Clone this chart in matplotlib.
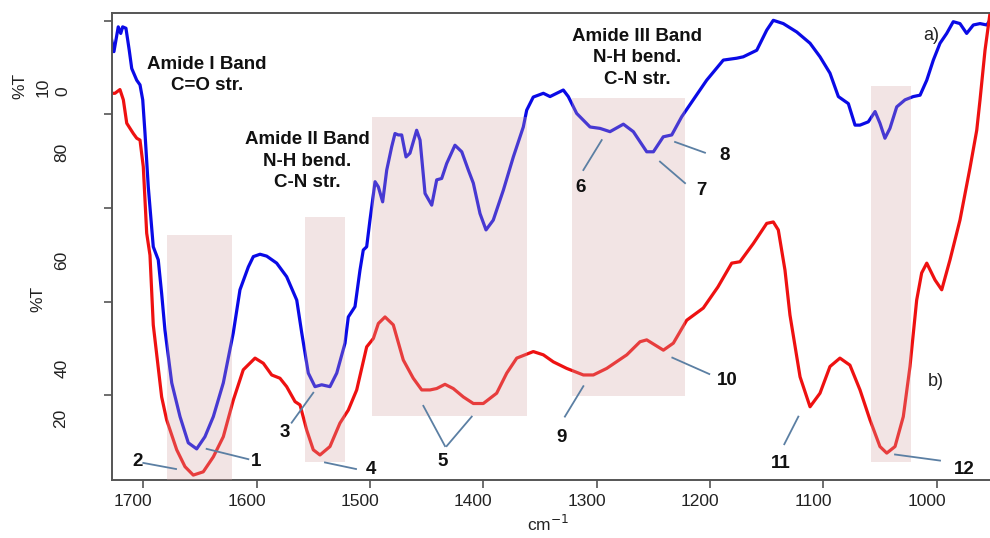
import matplotlib
matplotlib.use("Agg")
import matplotlib.pyplot as plt
from matplotlib.patches import Rectangle
from matplotlib.transforms import ScaledTranslation

plt.rcParams['font.family'] = ['Liberation Sans', 'DejaVu Sans']

# Spectrum a) - wavenumber (cm-1) and transmittance (%T)
wn_a = [1727.9, 1725.9, 1722.1, 1719.9, 1718.2, 1715.3, 1712.4, 1710.2, 1705.8, 1702.9,
        1700.5, 1698.5, 1695.6, 1691.2, 1686.8, 1683.8, 1680.9, 1674.9, 1667.6, 1660.3,
        1652.9, 1645.6, 1638.2, 1629.4, 1620.6, 1614.7, 1607.3, 1602.9, 1597.0, 1591.1,
        1582.3, 1573.5, 1564.6, 1560.2, 1554.4, 1548.5, 1542.6, 1535.3, 1529.3, 1522.0,
        1519.1, 1513.2, 1508.8, 1505.9, 1502.9, 1500.0, 1495.5, 1492.6, 1488.8, 1485.2,
        1480.8, 1477.9, 1475.0, 1472.0, 1468.2, 1464.7, 1458.8, 1455.8, 1451.4, 1445.5,
        1441.1, 1436.7, 1432.3, 1425.0, 1419.0, 1413.2, 1408.8, 1402.9, 1397.6, 1391.2,
        1382.3, 1373.5, 1364.7, 1361.7, 1355.9, 1347.0, 1341.1, 1335.2, 1329.4, 1325.0,
        1317.6, 1305.8, 1297.0, 1288.2, 1276.4, 1267.6, 1255.8, 1249.9, 1241.2, 1233.7,
        1224.9, 1214.7, 1202.9, 1188.2, 1176.4, 1170.6, 1158.7, 1149.9, 1144.1, 1135.3,
        1123.4, 1111.7, 1102.9, 1094.1, 1086.7, 1077.9, 1072.0, 1067.6, 1060.3, 1054.3,
        1050.0, 1045.6, 1041.2, 1035.2, 1027.9, 1020.6, 1014.6, 1008.7, 1002.9, 997.0,
        991.1, 985.3, 979.4, 973.5, 967.6, 961.7, 955.8, 952.9]
t_a = [95.9, 93.4, 98.7, 97.3, 98.7, 98.4, 93.7, 89.8, 87.3, 86.3,
       83.1, 76.0, 64.5, 51.7, 48.9, 41.7, 33.9, 22.6, 15.4, 9.8,
       8.5, 11.1, 15.4, 22.6, 33.3, 42.5, 47.4, 49.6, 50.1, 49.7,
       48.2, 45.3, 40.3, 33.3, 24.7, 21.8, 22.2, 21.8, 24.7, 31.1,
       36.7, 38.9, 46.7, 51.0, 51.7, 57.4, 65.6, 64.5, 61.3, 68.1,
       73.1, 75.9, 75.6, 75.6, 70.9, 71.7, 76.6, 74.5, 63.1, 60.6,
       66.0, 66.3, 69.5, 73.4, 72.0, 68.1, 65.3, 58.8, 55.3, 57.4,
       63.8, 70.9, 77.3, 80.9, 83.7, 84.5, 83.8, 84.5, 85.2, 83.8,
       80.2, 77.3, 77.0, 76.3, 77.9, 76.3, 72.0, 72.0, 75.2, 75.6,
       79.5, 83.1, 87.3, 91.6, 92.0, 92.3, 93.7, 98.0, 100.1, 99.4,
       97.6, 95.2, 92.3, 88.8, 83.8, 82.3, 77.7, 77.7, 78.4, 80.6,
       78.1, 74.9, 77.0, 81.6, 83.1, 83.8, 84.1, 87.3, 91.6, 95.2,
       97.3, 99.8, 99.4, 97.3, 99.1, 99.4, 99.1, 100.1]

# Spectrum b)
wn_b = [1727.9, 1725.0, 1720.6, 1717.6, 1714.6, 1708.8, 1705.8, 1702.9, 1700.0, 1697.0,
        1694.1, 1691.2, 1683.8, 1679.4, 1670.5, 1663.2, 1655.9, 1647.1, 1638.2, 1629.4,
        1620.6, 1611.8, 1601.4, 1594.1, 1586.7, 1579.4, 1573.5, 1566.1, 1561.7, 1555.8,
        1550.0, 1544.1, 1535.3, 1526.5, 1519.1, 1511.7, 1502.9, 1497.0, 1492.6, 1486.7,
        1479.4, 1470.6, 1461.8, 1454.3, 1447.0, 1441.1, 1433.8, 1426.5, 1417.6, 1408.8,
        1400.0, 1388.2, 1379.3, 1370.5, 1355.9, 1347.0, 1338.2, 1326.4, 1311.7, 1302.9,
        1291.1, 1273.4, 1261.7, 1255.8, 1241.1, 1232.3, 1220.5, 1205.9, 1193.0, 1180.8,
        1173.5, 1161.7, 1149.9, 1144.1, 1139.7, 1133.8, 1129.4, 1120.5, 1111.7, 1102.9,
        1094.1, 1085.3, 1076.5, 1067.6, 1058.8, 1050.0, 1044.0, 1036.7, 1029.4, 1023.5,
        1017.6, 1013.2, 1008.7, 1001.4, 995.5, 988.2, 979.4, 970.6, 964.6, 961.7,
        957.3, 952.9]
t_b = [84.5, 84.5, 85.3, 83.1, 78.1, 75.9, 74.9, 74.5, 68.8, 54.6,
       49.9, 35.0, 19.6, 14.7, 8.3, 4.7, 2.9, 3.6, 6.8, 11.1,
       18.9, 25.4, 27.9, 26.8, 24.3, 23.6, 21.8, 18.6, 17.9, 12.5,
       8.3, 7.2, 9.0, 14.0, 16.8, 21.1, 30.3, 32.1, 35.3, 36.7,
       35.0, 27.5, 23.6, 21.1, 21.1, 21.4, 22.3, 21.4, 19.6, 18.2,
       18.2, 20.4, 24.7, 27.9, 29.3, 28.6, 27.1, 25.7, 24.3, 24.3,
       25.7, 28.6, 31.4, 31.8, 29.6, 31.1, 36.0, 38.6, 43.1, 48.2,
       48.5, 52.4, 56.7, 57.0, 55.3, 46.7, 37.1, 23.9, 17.5, 20.4,
       26.1, 27.9, 26.4, 21.1, 14.7, 9.0, 7.6, 9.0, 15.4, 26.1,
       40.3, 46.1, 48.2, 44.6, 42.5, 48.9, 57.4, 68.5, 76.6, 83.1,
       93.7, 101.6]

# Highlighted band regions (wavenumber range and %T range)
band_hi = [1679.4, 1557.3, 1498.5, 1321.7, 1057.9]
band_lo = [1622.0, 1522.0, 1361.0, 1222.0, 1022.6]
band_bottom = [1.85, 5.8, 15.5, 19.9, 5.8]
band_top = [54.2, 58.0, 79.4, 83.5, 86.0]

xticks = [1700, 1600, 1500, 1400, 1300, 1200, 1100, 1000]
yticks = [20, 40, 60, 80, 100]

# Numbered peak labels: text, label position, leader segments
peaks = [
    ('1', (1600.6, 5.9), [((1644.1, 8.5), (1607.3, 6.3))]),
    ('2', (1705.1, 5.8), [((1700.0, 5.5), (1671.1, 4.2))]),
    ('3', (1575.0, 12.0), [((1569.1, 14.1), (1550.0, 20.5))]),
    ('4', (1499.1, 4.0), [((1539.7, 5.6), (1512.3, 4.2))]),
    ('5', (1436.0, 5.9), [((1433.8, 9.1), (1452.9, 17.7)),
                          ((1432.3, 9.1), (1410.2, 15.4))]),
    ('6', (1313.8, 64.4), [((1311.7, 68.1), (1295.5, 74.5))]),
    ('7', (1207.4, 63.7), [((1244.1, 69.9), (1222.0, 65.3))]),
    ('8', (1186.7, 71.2), [((1230.8, 74.1), (1204.4, 71.8))]),
    ('9', (1331.0, 10.9), [((1328.0, 15.4), (1311.7, 21.9))]),
    ('10', (1184.9, 23.1), [((1233.2, 28.0), (1200.6, 24.5))]),
    ('11', (1137.3, 5.3), [((1134.4, 9.5), (1122.0, 15.4))]),
    ('12', (975.8, 4.2), [((1036.7, 7.3), (997.0, 6.0))]),
]

band_titles = [
    ('Amide I Band\nC=O str.', (1643.8, 88.4)),
    ('Amide II Band\nN-H bend.\nC-N str.', (1555.1, 70.0)),
    ('Amide III Band\nN-H bend.\nC-N str.', (1264.4, 92.1)),
]

fig = plt.figure(figsize=(9.9, 5.38), dpi=100)
ax = fig.add_axes([0.1128, 0.1078, 0.8872, 0.8675])

ax.plot(wn_a, t_a, color='#0a0ae6', lw=2.3, solid_joinstyle='round', zorder=2)
ax.plot(wn_b, t_b, color='#ee1111', lw=2.3, solid_joinstyle='round', zorder=2)

for hi, lo, b, t in zip(band_hi, band_lo, band_bottom, band_top):
    ax.add_patch(Rectangle((lo, b), hi - lo, t - b, facecolor=(0.843, 0.651, 0.651),
                           alpha=0.3, edgecolor='none', zorder=3))

for label, (tx, ty), segs in peaks:
    ax.text(tx, ty, label, ha='center', va='center', fontsize=13.5,
            fontweight='bold', color='#111111', zorder=5)
    for (x0, y0), (x1, y1) in segs:
        ax.plot([x0, x1], [y0, y1], color='#5b7fa3', lw=1.3, zorder=4)

for txt, (tx, ty) in band_titles:
    ax.text(tx, ty, txt, ha='center', va='center', fontsize=13.5,
            fontweight='bold', color='#111111', linespacing=1.35, zorder=5)

ax.text(1005.0, 96.9, 'a)', ha='center', va='center', fontsize=13, color='#222222', zorder=5)
ax.text(1000.6, 22.9, 'b)', ha='center', va='center', fontsize=13, color='#222222', zorder=5)

ax.set_xlim(1727.9, 952.9)
ax.set_ylim(1.85, 101.6)
ax.set_xticks(xticks)
ax.set_xticklabels([str(v) for v in xticks], fontsize=12.5, color='#222222')
ax.set_yticks(yticks)
ax.set_yticklabels([''] * len(yticks))
ax.tick_params(axis='both', direction='out', length=6, width=1.2, color='#555555')
ax.tick_params(axis='x', pad=4)
shift = ScaledTranslation(-0.10, 0, fig.dpi_scale_trans)
for lbl in ax.get_xticklabels():
    lbl.set_transform(lbl.get_transform() + shift)

for side in ('left', 'bottom', 'top'):
    ax.spines[side].set_color('#555555')
    ax.spines[side].set_linewidth(1.4)
ax.spines['right'].set_visible(False)

# y-axis annotation texts
W, H = 990.0, 538.0
ylab = [('%T', 20, 86), ('10', 43, 87), ('0', 63, 91), ('80', 62, 152),
        ('60', 62, 260), ('%T', 38, 299), ('40', 62, 368), ('20', 61, 418)]
for txt, px, py in ylab:
    fig.text(px / W, 1 - py / H, txt, rotation=90, ha='center', va='center',
             fontsize=12.5, color='#222222')

fig.text(548 / W, 1 - 524 / H, 'cm$^{-1}$', ha='center', va='center',
         fontsize=12.5, color='#222222')

fig.savefig('out.png', dpi=100)
